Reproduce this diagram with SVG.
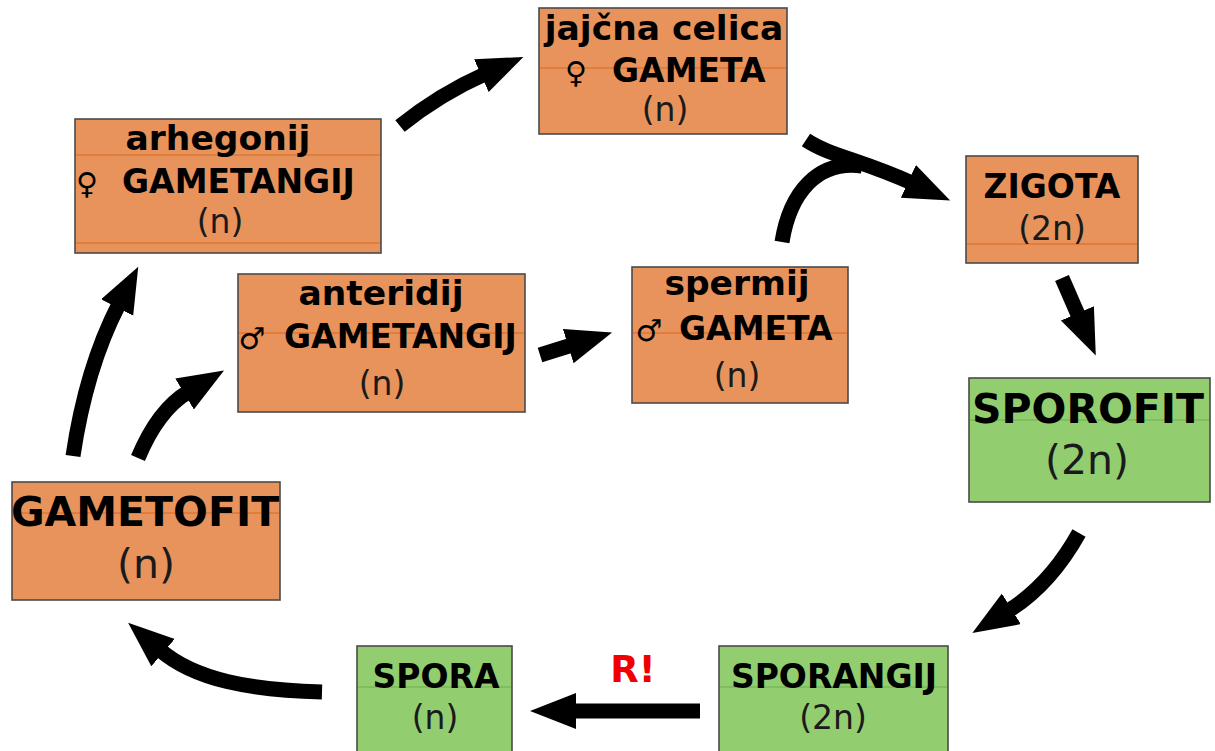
<svg xmlns="http://www.w3.org/2000/svg" width="1215" height="751" viewBox="0 0 1215 751">
<style>
.or{fill:#E8935C;stroke:#4a4a4a;stroke-width:1.6}
.gr{fill:#92CE70;stroke:#4a4a4a;stroke-width:1.6}
.ro{stroke:#D8681E;stroke-width:1}
.rg{stroke:#6AAE48;stroke-width:1}
text{font-family:"DejaVu Sans","Liberation Sans",sans-serif;fill:#000}
.b{font-weight:bold;font-size:33px}
.bw{font-weight:bold;font-size:34.5px}
.bl{font-weight:bold;font-size:41px}
.n{font-size:33px;fill:#1a1a1a}
.nl{font-size:41px;fill:#1a1a1a}
.s{font-size:30px}
.m{text-anchor:middle}
.sh{fill:none;stroke:#000;stroke-width:15;stroke-linecap:butt;marker-end:url(#ah)}
</style>
<defs>
<marker id="ah" markerUnits="userSpaceOnUse" markerWidth="50" markerHeight="38" refX="4" refY="18" orient="auto" viewBox="0 0 50 38">
<path d="M0,0 L46,18 L0,36 Z" fill="#000"/>
</marker>
</defs>
<g id="connectors">
<path class="sh" d="M73,456 Q86,368 119,304"/>
<path class="sh" d="M138,458 Q158,410 188,392"/>
<path class="sh" d="M400,126 Q440,94 485,74"/>
<path class="sh" d="M540,355 L572,345"/>
<path class="sh" d="M806,140 C830,156 862,160 912,183"/>
<path fill="none" stroke="#000" stroke-width="15" d="M782,242 C790,192 818,160 862,166"/>
<path class="sh" d="M1062,278 L1079,317"/>
<path class="sh" d="M1079,533 Q1050,585 1008,611"/>
<path class="sh" d="M700,711 L572,711"/>
<path class="sh" d="M322,692 C250,690 195,680 160,650"/>
<text class="b" x="633" y="682" text-anchor="middle" style="fill:#F00000;font-size:37px">R!</text>
</g>
<g id="jajcna">
<rect class="or" x="539" y="8" width="248" height="126"/>
<line class="ro" x1="540" y1="68" x2="786" y2="68"/>
<text class="bw m" x="664" y="40">jajčna celica</text>
<text class="s m" x="576" y="83">♀</text>
<text class="b" x="612" y="82">GAMETA</text>
<text class="n m" x="665" y="121">(n)</text>
</g>
<g id="arhegonij">
<rect class="or" x="75" y="119" width="306" height="134"/>
<line class="ro" x1="76" y1="155" x2="380" y2="155"/>
<line class="ro" x1="76" y1="243" x2="380" y2="243"/>
<text class="bw m" x="218" y="150">arhegonij</text>
<text class="s m" x="87" y="194">♀</text>
<text class="b" x="122" y="193">GAMETANGIJ</text>
<text class="n m" x="220" y="233">(n)</text>
</g>
<g id="anteridij">
<rect class="or" x="238" y="274" width="287" height="138"/>
<line class="ro" x1="239" y1="333" x2="524" y2="333"/>
<text class="bw m" x="381" y="305">anteridij</text>
<text class="s m" x="252" y="349">♂</text>
<text class="b" x="284" y="348">GAMETANGIJ</text>
<text class="n m" x="382" y="395">(n)</text>
</g>
<g id="spermij">
<rect class="or" x="632" y="267" width="216" height="136"/>
<line class="ro" x1="633" y1="333" x2="847" y2="333"/>
<text class="bw m" x="737" y="295">spermij</text>
<text class="s m" x="649" y="341">♂</text>
<text class="b" x="679" y="340">GAMETA</text>
<text class="n m" x="737" y="387">(n)</text>
</g>
<g id="zigota">
<rect class="or" x="966" y="156" width="172" height="107"/>
<line class="ro" x1="967" y1="244" x2="1137" y2="244"/>
<text class="b m" x="1052" y="198">ZIGOTA</text>
<text class="n m" x="1052" y="240">(2n)</text>
</g>
<g id="sporofit">
<rect class="gr" x="969" y="378" width="241" height="124"/>
<line class="rg" x1="970" y1="420" x2="1209" y2="420"/>
<text class="bl m" x="1088" y="423">SPOROFIT</text>
<text class="nl m" x="1087" y="474">(2n)</text>
</g>
<g id="gametofit">
<rect class="or" x="12" y="482" width="268" height="118"/>
<line class="ro" x1="13" y1="513" x2="279" y2="513"/>
<text class="bl m" x="145" y="526">GAMETOFIT</text>
<text class="nl m" x="146" y="578">(n)</text>
</g>
<g id="spora">
<rect class="gr" x="357" y="646" width="155" height="110"/>
<line class="rg" x1="358" y1="687" x2="511" y2="687"/>
<text class="b m" x="436" y="688">SPORA</text>
<text class="n m" x="435" y="729">(n)</text>
</g>
<g id="sporangij">
<rect class="gr" x="719" y="646" width="229" height="110"/>
<line class="rg" x1="720" y1="687" x2="947" y2="687"/>
<text class="b m" x="834" y="688">SPORANGIJ</text>
<text class="n m" x="833" y="729">(2n)</text>
</g>
</svg>
